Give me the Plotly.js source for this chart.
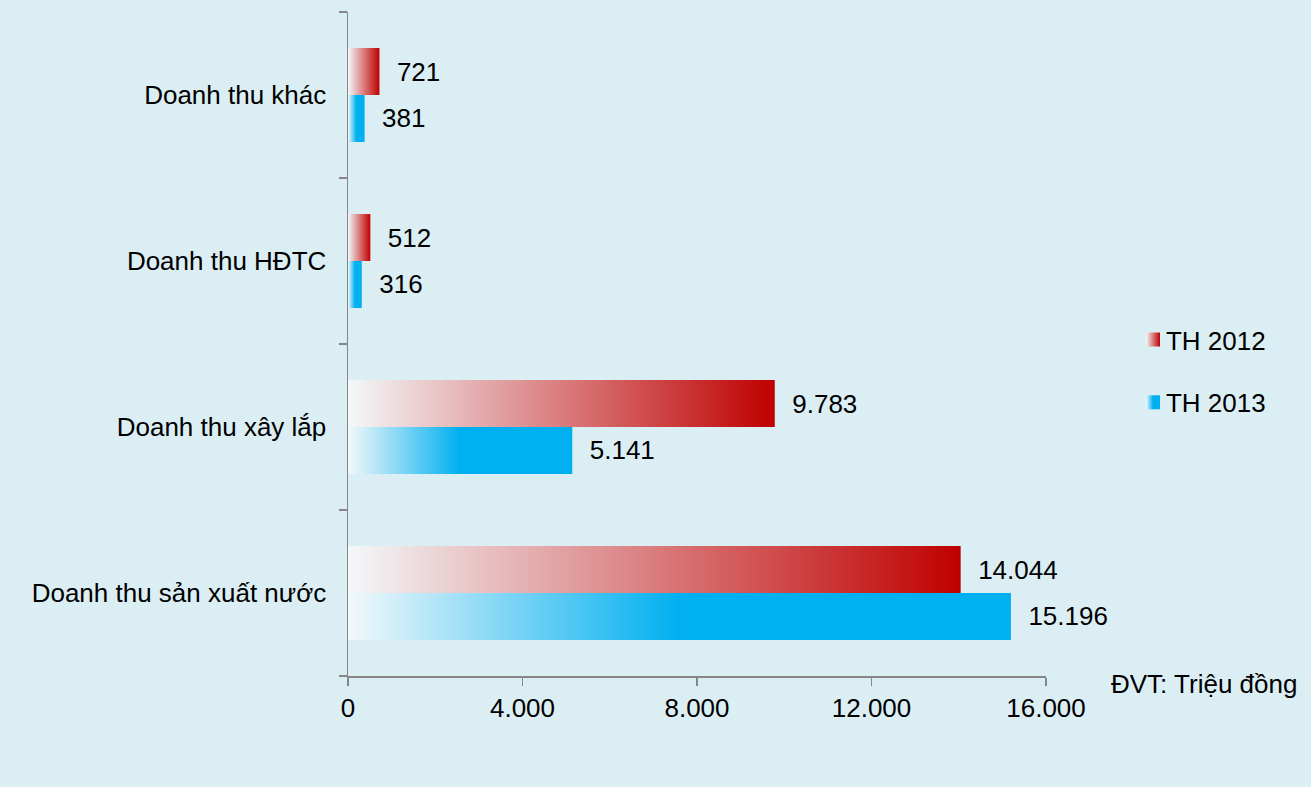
<!DOCTYPE html>
<html>
<head>
<meta charset="utf-8">
<script src="https://cdn.plot.ly/plotly-3.0.1.min.js"></script>
<style>
html,body{margin:0;padding:0;background:#dbeef4;}
#chart{width:1311px;height:787px;}
</style>
</head>
<body>
<svg width="0" height="0" style="position:absolute">
  <defs>
    <linearGradient id="gRed" x1="0" y1="0" x2="1" y2="0">
      <stop offset="0" stop-color="#f3f8fa"/>
      <stop offset="1" stop-color="#c00000"/>
    </linearGradient>
    <linearGradient id="gBlue" x1="0" y1="0" x2="1" y2="0">
      <stop offset="0" stop-color="#f3f8fa"/>
      <stop offset="0.5" stop-color="#00b0f0"/>
      <stop offset="1" stop-color="#00b0f0"/>
    </linearGradient>
  </defs>
</svg>
<div id="chart"></div>
<script>
const categories = ["Doanh thu sản xuất nước", "Doanh thu xây lắp", "Doanh thu HĐTC", "Doanh thu khác"];
const th2012 = [14044, 9783, 512, 721];
const th2013 = [15196, 5141, 316, 381];
const seriesNames = ["TH 2012", "TH 2013"];
const xTicks = [0, 4000, 8000, 12000, 16000];
const unitNote = "ĐVT: Triệu đồng";

const FONT = "'Liberation Sans', Arial, sans-serif";
const FS = 26;
const AX = "#868686";

const data = [
  {
    type: "bar", orientation: "h", name: seriesNames[1], legendgroup: "b", legendrank: 2,
    y: categories, x: th2013,
    marker: {color: "#00b0f0"},
    texttemplate: "\u00a0\u00a0%{x:,}", textposition: "outside",
    textfont: {family: FONT, size: FS, color: "#000"},
    cliponaxis: false, constraintext: "none"
  },
  {
    type: "bar", orientation: "h", name: seriesNames[0], legendgroup: "a", legendrank: 1,
    y: categories, x: th2012,
    marker: {color: "#c00000"},
    texttemplate: "\u00a0\u00a0%{x:,}", textposition: "outside",
    textfont: {family: FONT, size: FS, color: "#000"},
    cliponaxis: false, constraintext: "none"
  }
];

const layout = {
  width: 1311, height: 787,
  margin: {l: 348, r: 265, t: 12, b: 111},
  paper_bgcolor: "#dbeef4", plot_bgcolor: "#dbeef4",
  font: {family: FONT, size: FS, color: "#000"},
  separators: ",.",
  barmode: "group", bargap: 0.434, bargroupgap: 0,
  showlegend: true,
  legend: {
    x: 1.1146, xanchor: "left", y: 0.542, yanchor: "top",
    traceorder: "grouped", tracegroupgap: 26,
    font: {family: FONT, size: FS, color: "#000"},
    bgcolor: "rgba(0,0,0,0)"
  },
  xaxis: {
    range: [0, 16000], tickvals: xTicks, tickformat: ",",
    showgrid: false, zeroline: false,
    showline: true, linecolor: AX, linewidth: 1.5,
    ticks: "outside", ticklen: 8, tickcolor: AX, tickwidth: 1.5,
    tickfont: {family: FONT, size: FS, color: "#000"}
  },
  yaxis: {
    type: "category", range: [-0.5, 3.5],
    showgrid: false, zeroline: false,
    showline: true, linecolor: AX, linewidth: 1.5,
    ticks: "outside", ticklen: 8, tickcolor: AX, tickwidth: 1.5,
    tickson: "boundaries", ticklabelstandoff: 15,
    tickfont: {family: FONT, size: FS, color: "#000"}
  },
  annotations: [{
    text: unitNote, xref: "paper", yref: "paper",
    x: 1.362, xanchor: "right", y: -0.012, yanchor: "middle",
    showarrow: false, font: {family: FONT, size: FS, color: "#000"}
  }]
};

Plotly.newPlot("chart", data, layout, {staticPlot: true, displayModeBar: false}).then(function (gd) {
  const traces = gd.querySelectorAll(".barlayer .trace");
  traces.forEach(function (t, i) {
    const g = i === 0 ? "url(#gBlue)" : "url(#gRed)";
    t.querySelectorAll(".point path").forEach(function (p) { p.style.fill = g; });
  });
  gd.querySelectorAll(".legend .traces").forEach(function (l) {
    const isRed = l.textContent.indexOf("2012") >= 0;
    l.querySelectorAll(".legendpoints path").forEach(function (p) {
      p.style.fill = isRed ? "url(#gRed)" : "url(#gBlue)";
      p.setAttribute("d", "M7,7H-7V-7H7Z");
      p.setAttribute("transform", "translate(27,0)");
    });
  });
});
</script>
</body>
</html>
